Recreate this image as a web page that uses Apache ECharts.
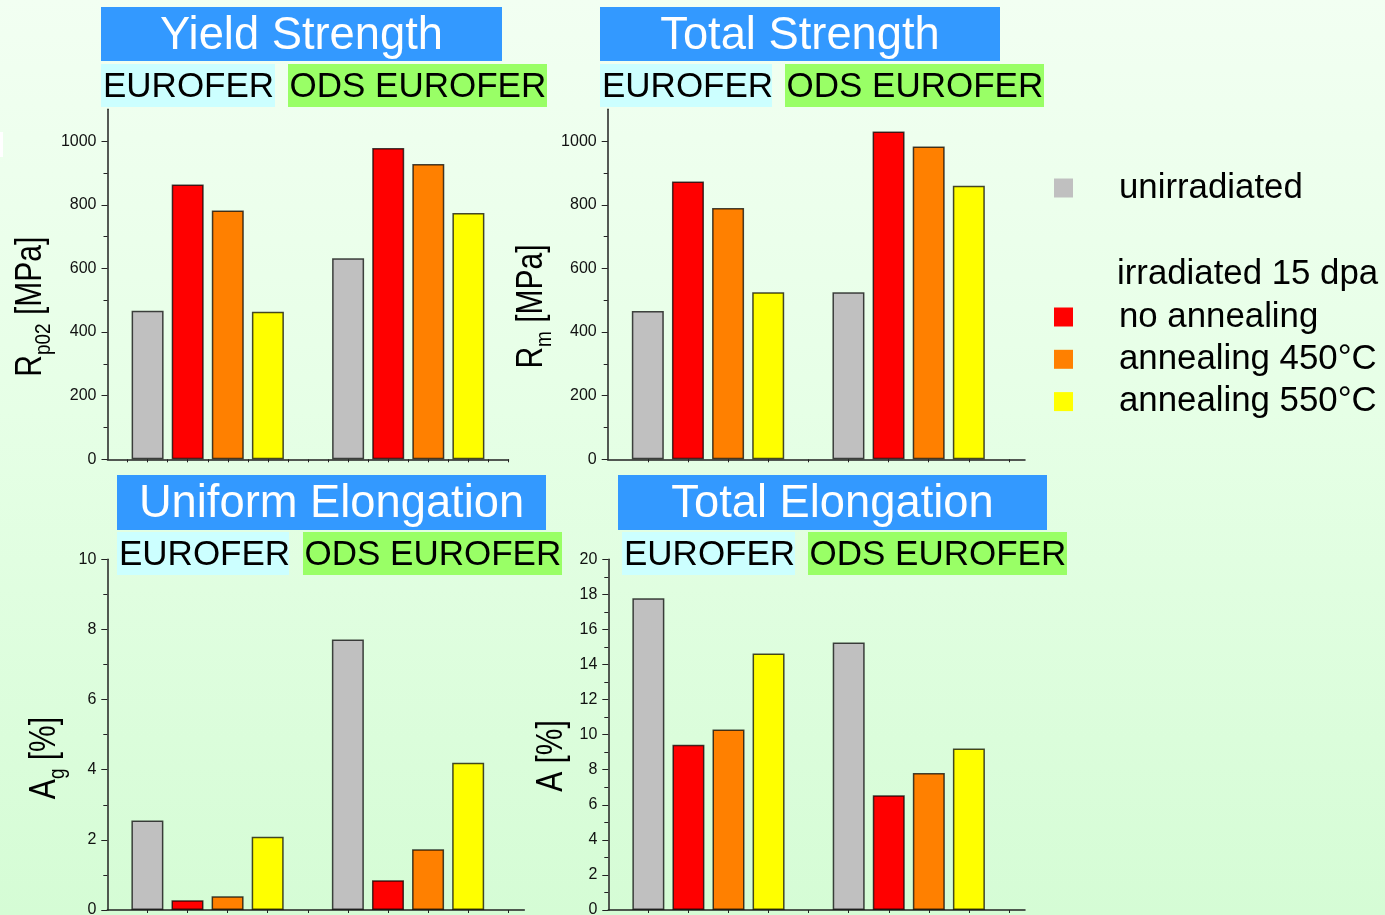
<!DOCTYPE html>
<html><head><meta charset="utf-8">
<script src="https://cdn.jsdelivr.net/npm/echarts@6/dist/echarts.min.js"></script>
<style>
html,body{margin:0;padding:0;width:1385px;height:915px;overflow:hidden;}
#c{width:1385px;height:915px;background:linear-gradient(180deg,#F2FFF2 0%,#E6FFE6 45%,#D5FCD5 100%);}
</style></head>
<body><div id="c"></div>
<script>
// ---------- data ----------
const seriesNames = ['unirradiated', 'no annealing', 'annealing 450°C', 'annealing 550°C'];
const materials = ['EUROFER', 'ODS EUROFER'];
// rows: series (seriesNames order); columns: materials order
const yieldStrength = [[467, 632], [864, 978], [782, 928], [464, 774]];
const totalStrength = [[466, 525], [873, 1030], [790, 983], [525, 860]];
const uniformElongation = [[2.55, 7.71], [0.28, 0.85], [0.39, 1.73], [2.09, 4.20]];
const totalElongation = [[17.78, 15.25], [9.42, 6.55], [10.29, 7.82], [14.63, 9.21]];

const panelTitles = ['Yield Strength', 'Total Strength', 'Uniform Elongation', 'Total Elongation'];
const strengthTickLabels = [0, 200, 400, 600, 800, 1000];
const strengthMinorTicks = [100, 300, 500, 700, 900];
const catTicksHalf = [0.5, 1, 1.5, 2, 2.5, 3, 3.5, 4, 4.5, 5, 5.5, 6, 6.5, 7, 7.5, 8, 8.5, 9, 9.5, 10];
const catTicks = [1, 2, 3, 4, 5, 6, 7, 8, 9, 10];

// ---------- styles ----------
const FONT = '"Liberation Sans", Arial, Helvetica, sans-serif';
const colors = ['#C0C0C0', '#FF0000', '#FF8000', '#FFFF00'];
const AX = '#222';

const grids = [
  { left: 107.5, top: 109.3, width: 401, height: 350 },
  { left: 607.7, top: 109.3, width: 417.3, height: 350 },
  { left: 107.3, top: 559.3, width: 417, height: 350.7 },
  { left: 608.3, top: 559.3, width: 416.7, height: 350.7 }
].map(g => Object.assign({ containLabel: false, outerBoundsMode: 'none', show: false }, g));

const xMax = [10, 10.4, 10.4, 10.4];
const xAxes = grids.map((g, i) => ({
  type: 'value', gridIndex: i, min: 0, max: xMax[i],
  axisLine: { show: true, onZero: false, lineStyle: { color: AX, width: 1.5 } },
  axisTick: { show: true, length: 3, customValues: i === 0 ? catTicksHalf : catTicks, lineStyle: { color: AX, width: 1 } },
  axisLabel: { show: false },
  splitLine: { show: false }
}));

const plainNum = v => String(v);
const labelStyle = { fontSize: 16, fontFamily: FONT, color: '#111', margin: 11, formatter: plainNum };
const yAxes = [];
const yMajorIndex = [];
[0, 1].forEach(i => {
  yMajorIndex.push(yAxes.length);
  yAxes.push({
    type: 'value', gridIndex: i, position: 'left', min: 0, max: 1100, interval: 100,
    axisLine: { show: true, lineStyle: { color: AX, width: 1.5 } },
    axisTick: { show: true, length: 6, customValues: strengthTickLabels, lineStyle: { color: AX, width: 1 } },
    axisLabel: Object.assign({ customValues: strengthTickLabels }, labelStyle),
    splitLine: { show: false }
  });
  yAxes.push({
    type: 'value', gridIndex: i, position: 'left', min: 0, max: 1100, interval: 100,
    axisLine: { show: false },
    axisTick: { show: true, length: 4, customValues: strengthMinorTicks, lineStyle: { color: AX, width: 1 } },
    axisLabel: { show: false },
    splitLine: { show: false }
  });
});
[[2, 10], [3, 20]].forEach(([i, mx]) => {
  yMajorIndex.push(yAxes.length);
  yAxes.push({
    type: 'value', gridIndex: i, position: 'left', min: 0, max: mx, interval: 2,
    axisLine: { show: true, lineStyle: { color: AX, width: 1.5 } },
    axisTick: { show: true, length: 6, lineStyle: { color: AX, width: 1 } },
    minorTick: { show: true, splitNumber: 2, length: 4, lineStyle: { color: AX, width: 1 } },
    axisLabel: labelStyle,
    splitLine: { show: false }, minorSplitLine: { show: false }
  });
});

const panelData = [yieldStrength, totalStrength, uniformElongation, totalElongation];
const series = [];
panelData.forEach((vals, p) => {
  seriesNames.forEach((name, s) => {
    series.push({
      type: 'bar', name: name,
      xAxisIndex: p, yAxisIndex: yMajorIndex[p],
      barWidth: 32, barGap: '-100%',
      data: materials.map((m, g) => [g * 5 + s + 1, vals[s][g]]),
      itemStyle: { color: colors[s], borderColor: 'rgba(0,0,0,0.72)', borderWidth: 1.5 },
      emphasis: { disabled: true },
      animation: false
    });
  });
});

// ---------- decorations (titles, material tags, axis titles) ----------
const panelBoxes = [
  { title: [101, 7, 401, 54], eur: [101, 64, 174, 43], ods: [288, 64, 259, 43] },
  { title: [600, 7, 400, 54], eur: [600, 64, 172, 43], ods: [785, 64, 259, 43] },
  { title: [117, 475, 429, 55], eur: [117, 532, 172, 43], ods: [303, 532, 259, 43] },
  { title: [618, 475, 429, 55], eur: [622, 532, 173, 43], ods: [808, 532, 259, 43] }
];
const graphics = [];
graphics.push({ type: 'rect', shape: { x: 0, y: 132, width: 3, height: 25 }, style: { fill: '#FFFFFF' }, silent: true });
panelBoxes.forEach((b, i) => {
  const t = b.title;
  graphics.push({ type: 'rect', shape: { x: t[0], y: t[1], width: t[2], height: t[3] }, style: { fill: '#3399FF' }, silent: true });
  graphics.push({ type: 'text', x: t[0] + t[2] / 2, y: t[1] + 44 - 14.5, silent: true,
    style: { text: panelTitles[i], fill: '#FFFFFF', fontSize: 45.3, fontFamily: FONT,
      align: 'center', verticalAlign: 'middle', textAlign: 'center', textVerticalAlign: 'middle' } });
  const e = b.eur, o = b.ods;
  graphics.push({ type: 'rect', shape: { x: e[0], y: e[1], width: e[2], height: e[3] }, style: { fill: '#CCFFFF' }, silent: true });
  graphics.push({ type: 'rect', shape: { x: o[0], y: o[1], width: o[2], height: o[3] }, style: { fill: '#99FF66' }, silent: true });
  graphics.push({ type: 'text', x: e[0] + 2, y: e[1] + 35 - 11.2, silent: true,
    style: { text: materials[0], fill: '#000', fontSize: 35, fontFamily: FONT,
      align: 'left', verticalAlign: 'middle', textAlign: 'left', textVerticalAlign: 'middle' } });
  graphics.push({ type: 'text', x: o[0] + 1.5, y: o[1] + 35 - 11.2, silent: true,
    style: { text: materials[1], fill: '#000', fontSize: 35, fontFamily: FONT,
      align: 'left', verticalAlign: 'middle', textAlign: 'left', textVerticalAlign: 'middle' } });
});

const richY = {
  m: { fontSize: 30, fontFamily: FONT, fill: '#000', color: '#000', lineHeight: 40 },
  s: { fontSize: 19, fontFamily: FONT, fill: '#000', color: '#000', lineHeight: 19, verticalAlign: 'bottom' }
};
const yTitles = [
  { text: '{m|R}{s|p02}{m| [MPa]}', x: 31.2, y: 306.7 },
  { text: '{m|R}{s|m}{m| [MPa]}', x: 532, y: 306.5 },
  { text: '{m|A}{s|g}{m| [%]}', x: 45.5, y: 758 },
  { text: '{m|A [%]}', x: 552, y: 756 }
];
yTitles.forEach(t => {
  graphics.push({ type: 'text', x: t.x, y: t.y, rotation: Math.PI / 2, scaleY: 1.2, silent: true,
    style: { text: t.text, rich: richY, align: 'center', verticalAlign: 'middle', textAlign: 'center', textVerticalAlign: 'middle' } });
});
graphics.push({ type: 'text', x: 1117, y: 285 - 11, silent: true,
  style: { text: 'irradiated 15 dpa', fill: '#000', fontSize: 34.8, fontFamily: FONT,
    align: 'left', verticalAlign: 'middle', textAlign: 'left', textVerticalAlign: 'middle' } });

const legendBase = {
  orient: 'vertical', left: 1054, itemWidth: 19, itemHeight: 19, icon: 'rect', padding: 0,
  selectedMode: false, itemStyle: { borderWidth: 0 },
  textStyle: { fontSize: 34.8, fontFamily: FONT, color: '#000', padding: [3, 0, 0, 41], lineHeight: 36 }
};

const option = {
  backgroundColor: 'transparent',
  animation: false,
  grid: grids,
  xAxis: xAxes,
  yAxis: yAxes,
  legend: [
    Object.assign({}, legendBase, { data: [seriesNames[0]], top: 168.5 }),
    Object.assign({}, legendBase, { data: seriesNames.slice(1), top: 297.5, itemGap: 3.3 })
  ],
  graphic: graphics,
  series: series
};
const chart = echarts.init(document.getElementById('c'), null, { renderer: 'canvas' });
chart.setOption(option);
</script>
</body></html>
